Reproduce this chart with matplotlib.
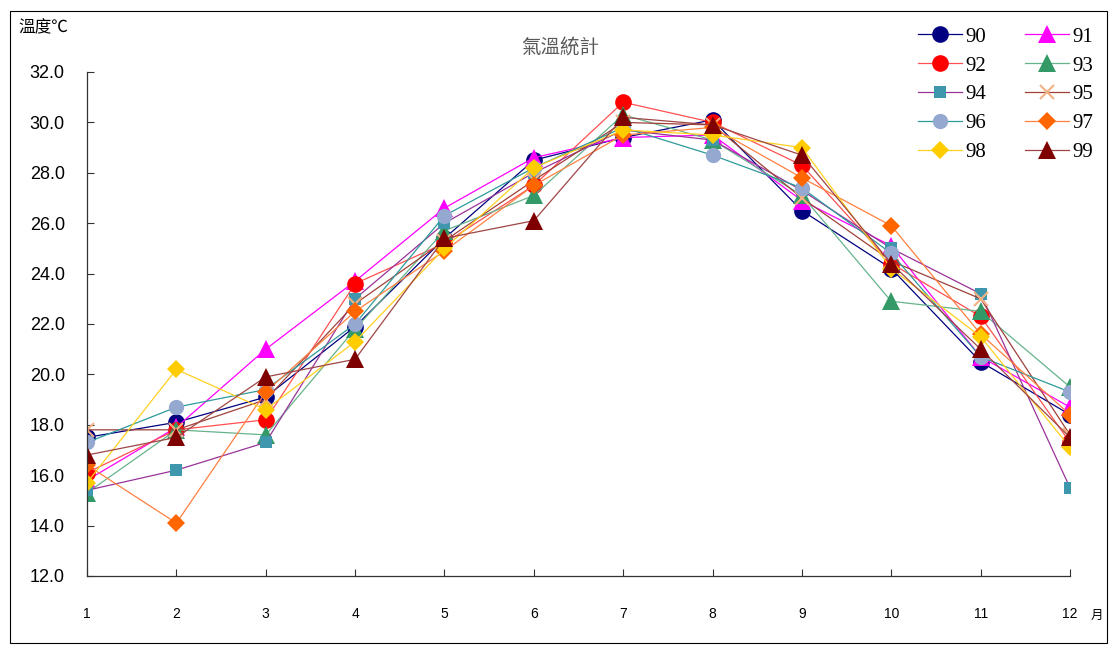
import matplotlib
matplotlib.use('Agg')
import matplotlib.pyplot as plt
from matplotlib.patches import Rectangle

plt.rcParams['font.family'] = ['Liberation Sans', 'Noto Sans CJK TC', 'DejaVu Sans']

months = [1, 2, 3, 4, 5, 6, 7, 8, 9, 10, 11, 12]
years = ['90', '91', '92', '93', '94', '95', '96', '97', '98', '99']

t90 = [17.5, 18.1, 19.1, 21.9, 25.4, 28.5, 29.4, 30.1, 26.5, 24.2, 20.5, 18.4]
t91 = [15.8, 17.9, 21.0, 23.7, 26.6, 28.6, 29.4, 29.5, 26.9, 25.1, 20.7, 18.7]
t92 = [16.1, 17.8, 18.2, 23.6, 25.2, 27.5, 30.8, 30.0, 28.3, 24.4, 22.3, 17.3]
t93 = [15.3, 17.8, 17.6, 21.8, 25.7, 27.1, 30.3, 29.3, 27.1, 22.9, 22.5, 19.5]
t94 = [15.4, 16.2, 17.3, 23.0, 26.0, 28.0, 29.7, 29.3, 27.3, 25.0, 23.2, 15.5]
t95 = [17.8, 17.8, 19.0, 22.8, 25.3, 27.7, 30.0, 29.9, 27.0, 24.5, 23.0, 17.6]
t96 = [17.3, 18.7, 19.4, 22.0, 26.3, 28.2, 29.8, 28.7, 27.4, 24.8, 20.7, 19.3]
t97 = [16.4, 14.1, 19.3, 22.5, 24.9, 27.5, 29.5, 29.8, 27.8, 25.9, 21.6, 18.4]
t98 = [15.7, 20.2, 18.6, 21.3, 25.0, 28.2, 29.7, 29.5, 29.0, 24.2, 21.5, 17.1]
t99 = [16.8, 17.5, 19.9, 20.6, 25.4, 26.1, 30.2, 29.9, 28.7, 24.4, 21.0, 17.5]
temps = [t90, t91, t92, t93, t94, t95, t96, t97, t98, t99]

# (line color, marker, marker color, marker size)
styles = [
    ('#000080', 'o', '#000080', 12),
    ('#FF00FF', '^', '#FF00FF', 13),
    ('#FF5050', 'o', '#FF0000', 12),
    ('#66B38C', '^', '#339966', 13),
    ('#993399', 's', '#3F97AD', 9),
    ('#A0403A', 'x', '#F4B183', 10),
    ('#2E9A9A', 'o', '#95A9D0', 11),
    ('#FF8040', 'D', '#FF6600', 9),
    ('#FFD020', 'D', '#FFCC00', 9),
    ('#A04545', '^', '#7F0000', 13),
]

fig = plt.figure(figsize=(11.12, 6.46), dpi=100)
ax = fig.add_axes([87/1112, 1 - 576/646, (1070 - 87)/1112, (576 - 72)/646])

handles = []
for i in range(10):
    lc, mk, mc, ms = styles[i]
    h, = ax.plot(months, temps[i], '-', color=lc, lw=0.9, marker=mk, ms=ms,
                 mfc=mc, mec=mc, mew=1.5 if mk == 'x' else 0, label=years[i])
    handles.append(h)

ax.set_xlim(1, 12)
ax.set_ylim(12, 32)
ax.set_xticks(months)
ax.set_yticks([12, 14, 16, 18, 20, 22, 24, 26, 28, 30, 32])
ax.set_yticklabels(['%.1f' % v for v in ax.get_yticks()])
ax.tick_params(axis='y', direction='in', length=5, labelsize=13, pad=16, color='#333333')
ax.tick_params(axis='x', direction='in', length=5, labelsize=10, pad=22, color='#333333')
for s in ['top', 'right']:
    ax.spines[s].set_visible(False)
for s in ['left', 'bottom']:
    ax.spines[s].set_color('#333333')
    ax.spines[s].set_linewidth(0.9)

# legend is filled row by row in the original
order = [0, 2, 4, 6, 8, 1, 3, 5, 7, 9]
leg = ax.legend([handles[k] for k in order], [years[k] for k in order], ncol=2,
                loc='upper left', bbox_to_anchor=(918/1112, 1 - 27/646),
                bbox_transform=fig.transFigure, frameon=False,
                prop={'family': 'Liberation Serif', 'size': 15},
                handlelength=2.1, handletextpad=0.15, columnspacing=1.9,
                labelspacing=0.45, borderpad=0, borderaxespad=0)

fig.text(560/1112, 1 - 47/646, '氣溫統計', ha='center', va='center',
         fontsize=14, color='#595959', family=['Noto Sans CJK TC', 'DejaVu Sans'])
fig.text(18/1112, 1 - 28/646, '溫度℃', ha='left', va='center',
         fontsize=12, family=['Noto Sans CJK TC', 'DejaVu Sans'])
fig.text(1097/1112, 1 - 615/646, '月', ha='center', va='center',
         fontsize=9, family=['Noto Sans CJK TC', 'DejaVu Sans'])

fig.patches.append(Rectangle((10/1112, 3/646), 1097/1112, 632/646, transform=fig.transFigure,
                             fill=False, edgecolor='black', lw=0.8))

fig.savefig('out.png', dpi=100)
